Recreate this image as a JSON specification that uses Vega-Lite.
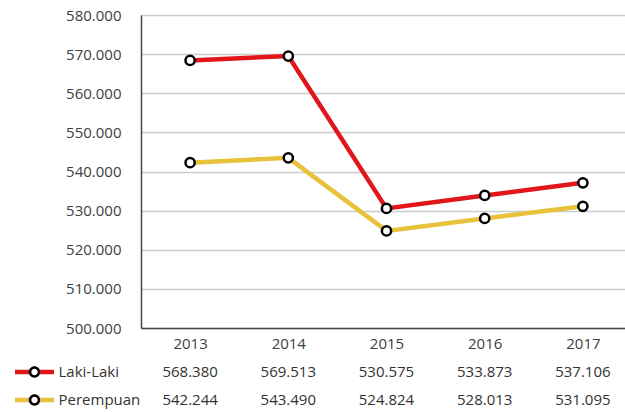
{
  "$schema": "https://vega.github.io/schema/vega-lite/v6.json",
  "background": "white",
  "padding": {"left": 12, "top": 8, "right": 0, "bottom": 0},
  "config": {"view": {"stroke": null}, "font": "Open Sans"},
  "data": {
    "values": [
      {"Tahun": "2013", "Jenis": "Laki-Laki", "Nilai": 568.380},
      {"Tahun": "2014", "Jenis": "Laki-Laki", "Nilai": 569.513},
      {"Tahun": "2015", "Jenis": "Laki-Laki", "Nilai": 530.575},
      {"Tahun": "2016", "Jenis": "Laki-Laki", "Nilai": 533.873},
      {"Tahun": "2017", "Jenis": "Laki-Laki", "Nilai": 537.106},
      {"Tahun": "2013", "Jenis": "Perempuan", "Nilai": 542.244},
      {"Tahun": "2014", "Jenis": "Perempuan", "Nilai": 543.490},
      {"Tahun": "2015", "Jenis": "Perempuan", "Nilai": 524.824},
      {"Tahun": "2016", "Jenis": "Perempuan", "Nilai": 528.013},
      {"Tahun": "2017", "Jenis": "Perempuan", "Nilai": 531.095}
    ]
  },
  "spacing": 7,
  "resolve": {"legend": {"color": "independent", "shape": "independent"}},
  "vconcat": [
    {
      "width": 491,
      "height": 313,
      "encoding": {
        "x": {"field": "Tahun", "type": "ordinal", "title": null,
          "axis": {"labelAngle": 0, "ticks": false, "labelPadding": 8, "labelFont": "Open Sans", "labelFontSize": 15, "labelColor": "#404040", "domainColor": "#444444", "domainWidth": 1.5, "grid": false}},
        "y": {"field": "Nilai", "type": "quantitative", "title": null,
          "scale": {"domain": [500, 580], "nice": false, "zero": false},
          "axis": {"values": [500, 510, 520, 530, 540, 550, 560, 570, 580], "format": ".3f", "ticks": false, "labelPadding": 20, "labelFont": "Open Sans", "labelFontSize": 15, "labelColor": "#404040", "domainColor": "#444444", "domainWidth": 1.5, "grid": true, "gridColor": "#cccccc", "gridWidth": 1.5}}
      },
      "layer": [
        {
          "mark": {"type": "line", "strokeWidth": 4.5},
          "encoding": {
            "color": {"field": "Jenis", "type": "nominal", "scale": {"domain": ["Laki-Laki", "Perempuan"], "range": ["#e0161b", "#e8c23a"]}, "legend": null}
          }
        },
        {
          "mark": {"type": "point", "filled": true, "fill": "white", "stroke": "black", "strokeWidth": 2.5, "size": 85, "opacity": 1},
          "encoding": {}
        }
      ]
    },
    {
      "width": 491,
      "height": 56,
      "transform": [{"calculate": "datum.Jenis", "as": "Simbol"}],
      "encoding": {
        "x": {"field": "Tahun", "type": "ordinal", "axis": null},
        "y": {"field": "Jenis", "type": "nominal", "axis": null, "sort": ["Laki-Laki", "Perempuan"]}
      },
      "layer": [
        {
          "mark": {"type": "line", "opacity": 0, "strokeWidth": 4.5},
          "encoding": {
            "color": {"field": "Jenis", "type": "nominal", "scale": {"domain": ["Laki-Laki", "Perempuan"], "range": ["#e0161b", "#e8c23a"]},
              "legend": {"orient": "none", "legendX": -128.5, "legendY": 6, "title": null, "padding": 0, "symbolType": "M-1,0L-0.25,0M0.25,0L1,0", "symbolSize": 1521, "symbolStrokeWidth": 4.5, "symbolOpacity": 1, "clipHeight": 16, "rowPadding": 12, "labelOffset": 2, "labelFont": "Open Sans", "labelFontSize": 15, "labelColor": "#333333"}}
          }
        },
        {
          "mark": {"type": "point", "opacity": 0, "filled": true, "fill": "black", "size": 130},
          "encoding": {
            "shape": {"field": "Simbol", "type": "nominal", "scale": {"range": ["M1,0A1,1,0,1,1,-1,0A1,1,0,1,1,1,0Z M0.56,0A0.56,0.56,0,1,0,-0.56,0A0.56,0.56,0,1,0,0.56,0Z", "M1,0A1,1,0,1,1,-1,0A1,1,0,1,1,1,0Z M0.56,0A0.56,0.56,0,1,0,-0.56,0A0.56,0.56,0,1,0,0.56,0Z"]},
              "legend": {"orient": "none", "legendX": -114, "legendY": 6, "title": null, "padding": 0, "symbolSize": 130, "symbolFillColor": "black", "symbolStrokeWidth": 0, "symbolOpacity": 1, "clipHeight": 16, "rowPadding": 12, "labelExpr": "''", "labelFontSize": 15,
                "encode": {"symbols": {"fill": {"value": "black"}, "fillOpacity": {"value": 1}, "opacity": {"value": 1}}}}}
          }
        },
        {
          "mark": {"type": "text", "font": "Open Sans", "fontSize": 15, "color": "#333333"},
          "encoding": {
            "text": {"field": "Nilai", "type": "quantitative", "format": ".3f"}
          }
        }
      ]
    }
  ]
}
